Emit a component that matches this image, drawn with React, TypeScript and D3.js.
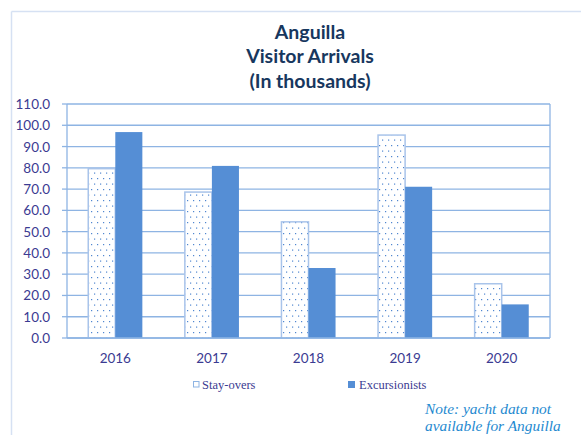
import React from "react";
import * as d3 from "d3";

const years = ["2016", "2017", "2018", "2019", "2020"];
const stayOvers = [79.6, 68.6, 54.6, 95.4, 25.5];
const excursionists = [96.8, 80.9, 32.9, 71.1, 15.8];
const yTicks = [0, 10, 20, 30, 40, 50, 60, 70, 80, 90, 100, 110];
const titleLines = ["Anguilla", "Visitor Arrivals", "(In thousands)"];
const noteLines = ["Note: yacht data not", "available for Anguilla"];

const W = 581;
const H = 435;
const plot = { left: 67, right: 550, top: 104, bottom: 338 };

export default function App() {
  const x = d3.scaleBand<string>().domain(years).range([plot.left, plot.right]).paddingInner(0.44).paddingOuter(0.22);
  const y = d3.scaleLinear().domain([0, 110]).range([plot.bottom, plot.top]);
  const bw = x.bandwidth() / 2;
  const labelColor = "#3b3b92";
  const gridColor = "#8eb4e3";

  return (
    <svg width={W} height={H} style={{ position: "absolute", left: 0, top: 0 }}>
      <defs>
        <pattern id="dots" width="6" height="11" patternUnits="userSpaceOnUse">
          <rect width="6" height="11" fill="#ffffff" />
          <rect x="1" y="2" width="1.2" height="1.2" fill="#4f86d0" />
          <rect x="4" y="7.5" width="1.2" height="1.2" fill="#4f86d0" />
        </pattern>
      </defs>
      <rect width={W} height={H} fill="#fff" />
      {/* chart frame */}
      <line x1={11.5} y1={11.5} x2={W} y2={11.5} stroke="#d6e1f3" strokeWidth={1.5} />
      <line x1={11.5} y1={11.5} x2={11.5} y2={H} stroke="#d6e1f3" strokeWidth={1.5} />

      {titleLines.map((t, i) => (
        <text key={t} x={310} y={38.5 + i * 24.5} textAnchor="middle" fontFamily="Lato, 'Open Sans', sans-serif" fontWeight="bold" fontSize={19.5} fill="#17375e">
          {t}
        </text>
      ))}

      {/* gridlines */}
      {yTicks.map((t) => (
        <line key={t} x1={plot.left} x2={plot.right} y1={y(t)} y2={y(t)} stroke={gridColor} strokeWidth={1.3} />
      ))}
      {yTicks.map((t) => (
        <line key={"tk" + t} x1={plot.left - 5} x2={plot.left} y1={y(t)} y2={y(t)} stroke={gridColor} strokeWidth={1.3} />
      ))}
      <line x1={plot.left} x2={plot.left} y1={plot.top} y2={plot.bottom} stroke={gridColor} strokeWidth={1.3} />
      <line x1={plot.right} x2={plot.right} y1={plot.top} y2={plot.bottom} stroke={gridColor} strokeWidth={1.3} />
      {yTicks.map((t) => (
        <text key={"l" + t} x={50} y={y(t) + 5} textAnchor="end" fontFamily="Lato, 'Open Sans', sans-serif" fontSize={13.5} fill={labelColor}>
          {t.toFixed(1)}
        </text>
      ))}

      {/* bars */}
      {years.map((yr, i) => (
        <g key={yr}>
          <rect x={x(yr)!} y={y(stayOvers[i])} width={bw} height={plot.bottom - y(stayOvers[i])} fill="url(#dots)" stroke="#a9c4ea" strokeWidth={1.5} />
          <rect x={x(yr)! + bw} y={y(excursionists[i])} width={bw} height={plot.bottom - y(excursionists[i])} fill="#558ed5" />
          <text x={x(yr)! + bw} y={363} textAnchor="middle" fontFamily="Lato, 'Open Sans', sans-serif" fontSize={13.5} fill={labelColor}>
            {yr}
          </text>
        </g>
      ))}
      <line x1={plot.left} x2={plot.right} y1={plot.bottom} y2={plot.bottom} stroke={gridColor} strokeWidth={1.5} />

      {/* legend */}
      <rect x={193.5} y={381.5} width={5.5} height={5.5} fill="#fff" stroke="#8eb4e3" strokeWidth={1} />
      <text x={202} y={389} fontFamily="'Liberation Serif', serif" fontSize={12.5} fill={labelColor}>Stay-overs</text>
      <rect x={348} y={381} width={7} height={7} fill="#558ed5" />
      <text x={359} y={389} fontFamily="'Liberation Serif', serif" fontSize={12.5} fill={labelColor}>Excursionists</text>

      {noteLines.map((t, i) => (
        <text key={t} x={425} y={414 + i * 17} fontFamily="'Liberation Serif', serif" fontStyle="italic" fontSize={15.4} fill="#1f8ad0">
          {t}
        </text>
      ))}
    </svg>
  );
}
